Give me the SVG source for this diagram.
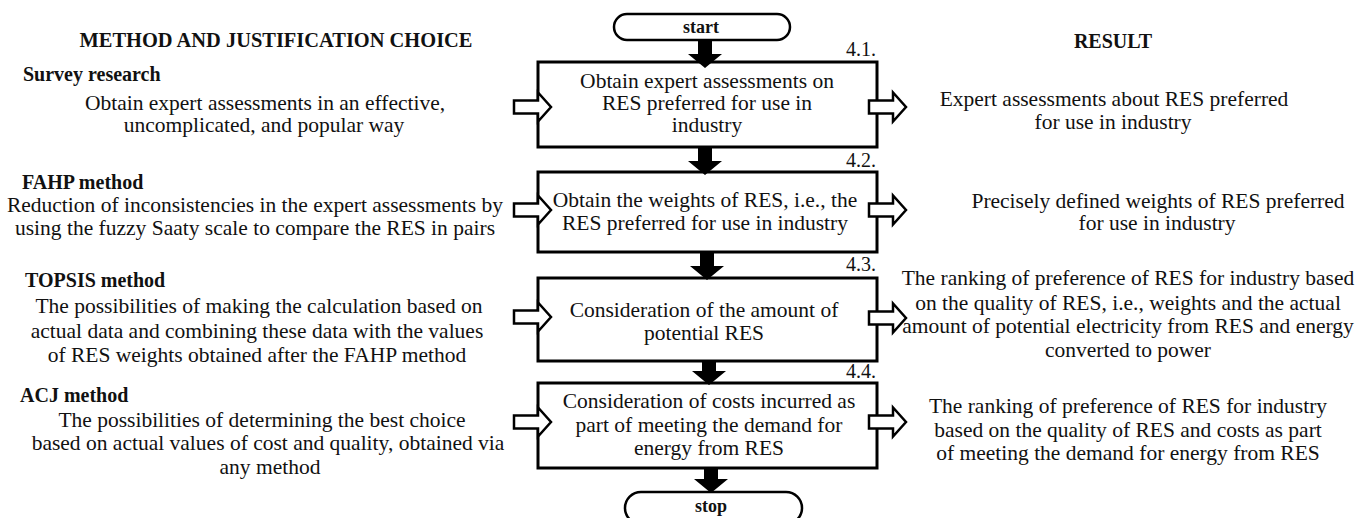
<svg xmlns="http://www.w3.org/2000/svg" width="1370" height="518" viewBox="0 0 1370 518">
<defs>
<style>
text{font-family:"Liberation Serif","Times New Roman",serif;fill:#111;}
.t{font-size:21.5px;text-anchor:middle;}
.h{font-size:20px;font-weight:bold;}
.hc{font-size:20px;font-weight:bold;text-anchor:middle;}
.n{font-size:20px;text-anchor:end;}
.term{font-size:18px;font-weight:bold;text-anchor:middle;}
.box{fill:#fff;stroke:#000;stroke-width:3;}
.tm{fill:#fff;stroke:#000;stroke-width:2.5;}
.ha{fill:#fff;stroke:#000;stroke-width:2.5;stroke-linejoin:miter;}
.fa{fill:#000;}
</style>
<path id="hollow" d="M0,-6.5 H24 V-14.5 L37,0 L24,14.5 V6.5 H0 Z"/>
</defs>
<rect width="1370" height="518" fill="#fff"/>

<text class="hc" x="276" y="47" textLength="393" lengthAdjust="spacingAndGlyphs">METHOD AND JUSTIFICATION CHOICE</text>
<text class="hc" x="1113" y="48">RESULT</text>

<g id="start">
<rect class="tm" x="614" y="14" width="176" height="26" rx="13"/>
<text class="term" x="701" y="33">start</text>
</g>

<g id="step41">
<rect class="box" x="538" y="62" width="339" height="85"/>
<text class="n" x="876" y="56">4.1.</text>
<text class="t" x="707" y="88">Obtain expert assessments on</text>
<text class="t" x="707" y="110">RES preferred for use in</text>
<text class="t" x="707" y="132">industry</text>
</g>

<g id="step42">
<rect class="box" x="538" y="172" width="339" height="80"/>
<text class="n" x="876" y="167">4.2.</text>
<text class="t" x="705" y="207">Obtain the weights of RES, i.e., the</text>
<text class="t" x="705" y="230">RES preferred for use in industry</text>
</g>

<g id="step43">
<rect class="box" x="538" y="278" width="339" height="83"/>
<text class="n" x="876" y="271">4.3.</text>
<text class="t" x="704" y="317">Consideration of the amount of</text>
<text class="t" x="704" y="340">potential RES</text>
</g>

<g id="step44">
<rect class="box" x="538" y="383" width="339" height="85"/>
<text class="n" x="876" y="378">4.4.</text>
<text class="t" x="709" y="408">Consideration of costs incurred as</text>
<text class="t" x="709" y="432">part of meeting the demand for</text>
<text class="t" x="709" y="455">energy from RES</text>
</g>

<g id="stop">
<rect class="tm" x="625" y="492" width="177" height="32" rx="16"/>
<text class="term" x="711" y="512">stop</text>
</g>

<g id="method-survey">
<text class="h" x="23" y="81">Survey research</text>
<text class="t" x="265" y="110">Obtain expert assessments in an effective,</text>
<text class="t" x="264" y="132">uncomplicated, and popular way</text>
</g>
<g id="method-fahp">
<text class="h" x="22" y="189">FAHP method</text>
<text class="t" x="255" y="212">Reduction of inconsistencies in the expert assessments by</text>
<text class="t" x="255" y="235">using the fuzzy Saaty scale to compare the RES in pairs</text>
</g>
<g id="method-topsis">
<text class="h" x="25" y="287">TOPSIS method</text>
<text class="t" x="259" y="313">The possibilities of making the calculation based on</text>
<text class="t" x="257" y="338">actual data and combining these data with the values</text>
<text class="t" x="257" y="362">of RES weights obtained after the FAHP method</text>
</g>
<g id="method-acj">
<text class="h" x="20" y="402">ACJ method</text>
<text class="t" x="262" y="427">The possibilities of determining the best choice</text>
<text class="t" x="268" y="450">based on actual values of cost and quality, obtained via</text>
<text class="t" x="270" y="474">any method</text>
</g>

<g id="result-1">
<text class="t" x="1114" y="106">Expert assessments about RES preferred</text>
<text class="t" x="1113" y="129">for use in industry</text>
</g>
<g id="result-2">
<text class="t" x="1158" y="208">Precisely defined weights of RES preferred</text>
<text class="t" x="1157" y="230">for use in industry</text>
</g>
<g id="result-3">
<text class="t" x="1128" y="285">The ranking of preference of RES for industry based</text>
<text class="t" x="1128" y="310">on the quality of RES, i.e., weights and the actual</text>
<text class="t" x="1128" y="333">amount of potential electricity from RES and energy</text>
<text class="t" x="1128" y="357">converted to power</text>
</g>
<g id="result-4">
<text class="t" x="1128" y="413">The ranking of preference of RES for industry</text>
<text class="t" x="1128" y="437">based on the quality of RES and costs as part</text>
<text class="t" x="1128" y="460">of meeting the demand for energy from RES</text>
</g>

<g id="connectors">
<path class="fa" d="M698,40 H712 V54 H722 L705,68 L688,54 H698 Z"/>
<path class="fa" d="M698,147 H712 V161 H722 L705,175 L688,161 H698 Z"/>
<path class="fa" d="M700,252 H714 V266 H724 L707,280 L690,266 H700 Z"/>
<path class="fa" d="M702,361 H716 V371 H726 L709,385 L692,371 H702 Z"/>
<path class="fa" d="M704,468 H718 V479 H728 L711,493 L694,479 H704 Z"/>
<use href="#hollow" class="ha" x="514" y="107"/>
<use href="#hollow" class="ha" x="514" y="210"/>
<use href="#hollow" class="ha" x="514" y="317"/>
<use href="#hollow" class="ha" x="514" y="422"/>
<use href="#hollow" class="ha" x="869" y="107"/>
<use href="#hollow" class="ha" x="869" y="210"/>
<use href="#hollow" class="ha" x="869" y="318"/>
<use href="#hollow" class="ha" x="869" y="422"/>
</g>
</svg>
